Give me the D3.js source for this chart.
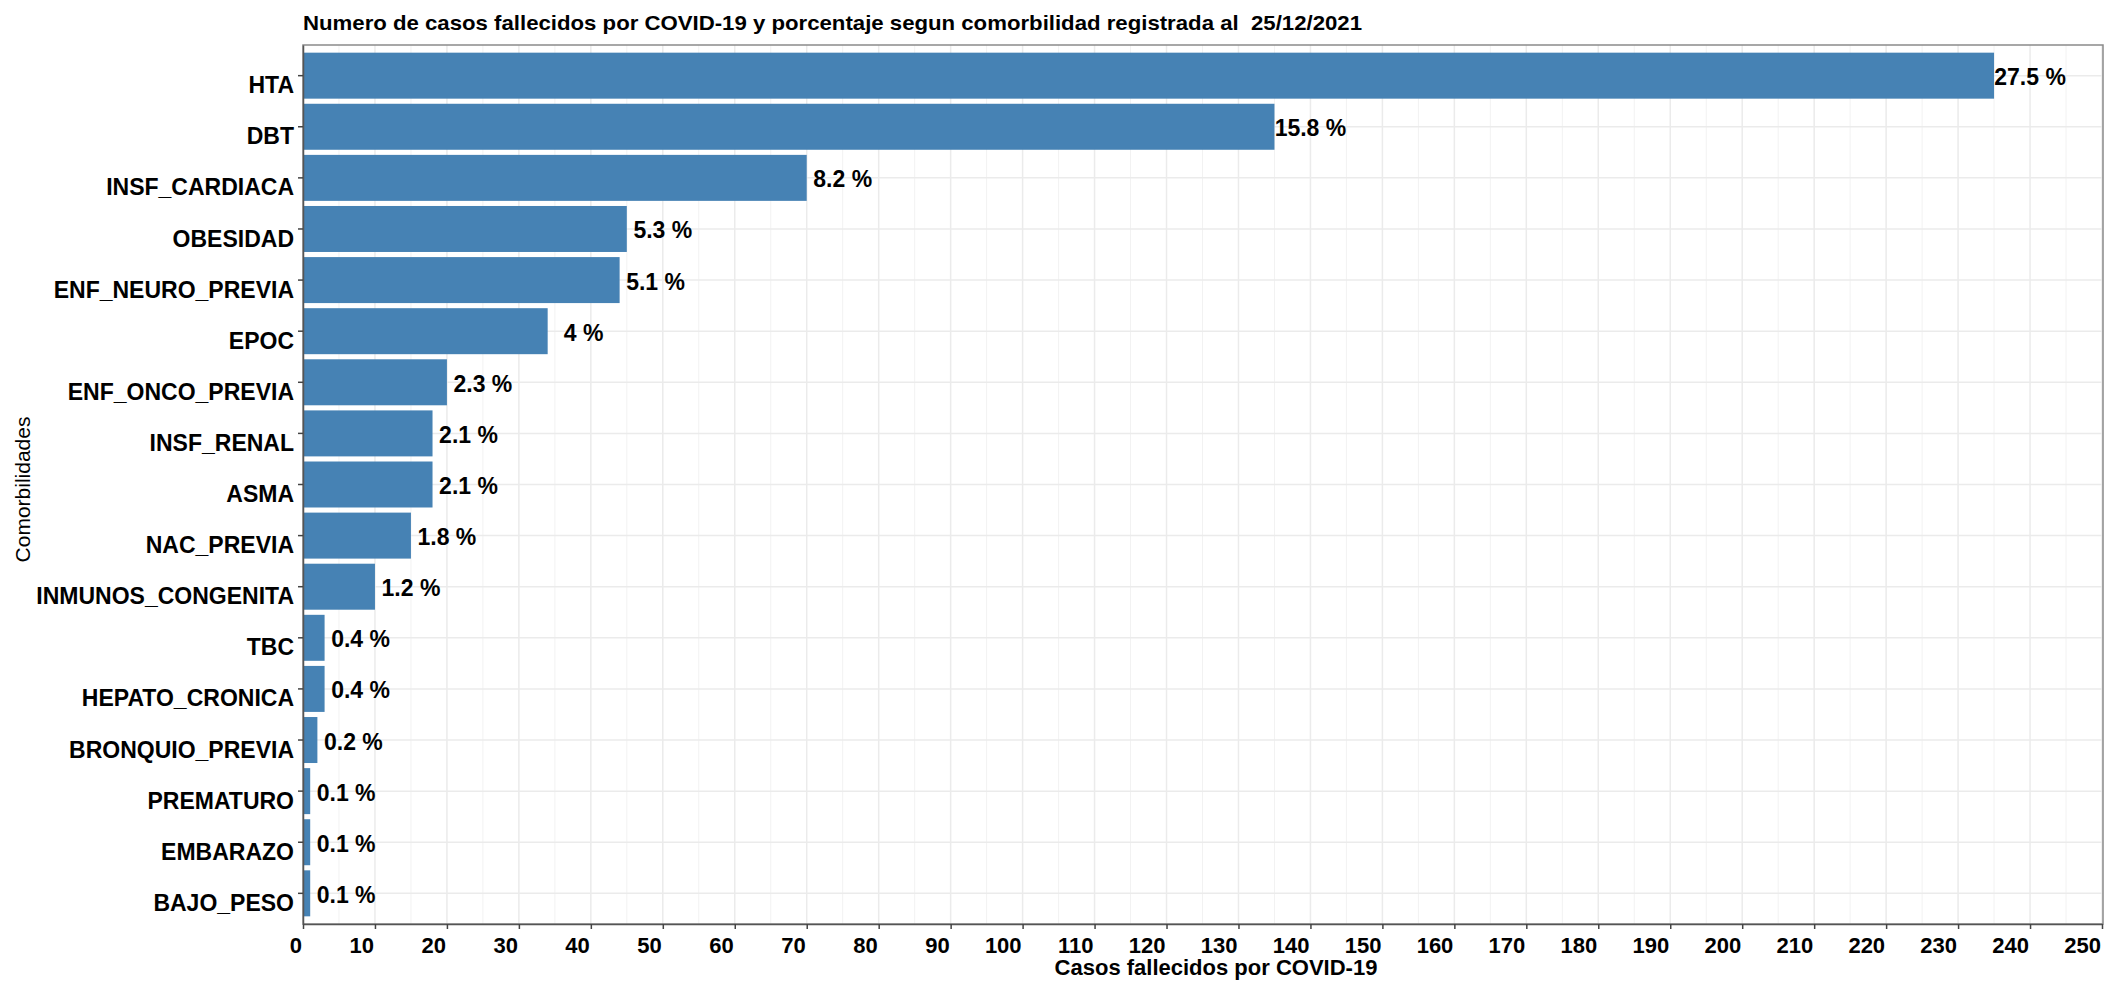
<!DOCTYPE html>
<html>
<head>
<meta charset="utf-8">
<script src="https://cdn.jsdelivr.net/npm/d3@7"></script>
<style>
body { margin: 0; background: #fff; }
text { font-family: "Liberation Sans", Arial, sans-serif; }
</style>
</head>
<body>
<svg id="chart"></svg>
<script>
// comorbidities, top to bottom
var categories = ["HTA", "DBT", "INSF_CARDIACA", "OBESIDAD", "ENF_NEURO_PREVIA", "EPOC",
  "ENF_ONCO_PREVIA", "INSF_RENAL", "ASMA", "NAC_PREVIA", "INMUNOS_CONGENITA", "TBC",
  "HEPATO_CRONICA", "BRONQUIO_PREVIA", "PREMATURO", "EMBARAZO", "BAJO_PESO"];
// deaths per comorbidity
var deaths = [235, 135, 70, 45, 44, 34, 20, 18, 18, 15, 10, 3, 3, 2, 1, 1, 1];
// percentage labels as printed
var pctLabels = ["27.5 %", "15.8 %", "8.2 %", "5.3 %", "5.1 %", "4 %", "2.3 %", "2.1 %",
  "2.1 %", "1.8 %", "1.2 %", "0.4 %", "0.4 %", "0.2 %", "0.1 %", "0.1 %", "0.1 %"];
var xTicks = [0, 10, 20, 30, 40, 50, 60, 70, 80, 90, 100, 110, 120, 130, 140, 150, 160,
  170, 180, 190, 200, 210, 220, 230, 240, 250];
var xMinorTicks = [5, 15, 25, 35, 45, 55, 65, 75, 85, 95, 105, 115, 125, 135, 145, 155,
  165, 175, 185, 195, 205, 215, 225, 235, 245];

var width = 2106, height = 983;
var panel = { left: 303, right: 2103, top: 45, bottom: 924 };

var svg = d3.select('#chart')
  .attr('width', width)
  .attr('height', height);

var data = categories.map(function(c, i) {
  return { cat: c, n: deaths[i], pct: pctLabels[i] };
});

var x = d3.scaleLinear()
  .domain([0, 250])
  .range([panel.left, panel.right - 1]);

// ggplot style: bar width 0.9, 0.6 expansion on each side
var y = d3.scaleBand()
  .domain(categories)
  .range([panel.top, panel.bottom])
  .paddingInner(0.1)
  .paddingOuter(0.15);

// grid
var grid = svg.append('g');
grid.selectAll('line.minor')
  .data(xMinorTicks)
  .enter().append('line')
  .attr('x1', function(d) { return x(d); })
  .attr('x2', function(d) { return x(d); })
  .attr('y1', panel.top)
  .attr('y2', panel.bottom)
  .attr('stroke', '#f2f2f2')
  .attr('stroke-width', 1);

grid.selectAll('line.major')
  .data(xTicks)
  .enter().append('line')
  .attr('x1', function(d) { return x(d); })
  .attr('x2', function(d) { return x(d); })
  .attr('y1', panel.top)
  .attr('y2', panel.bottom)
  .attr('stroke', '#ebebeb')
  .attr('stroke-width', 1.5);

grid.selectAll('line.hmajor')
  .data(categories)
  .enter().append('line')
  .attr('x1', panel.left)
  .attr('x2', panel.right)
  .attr('y1', function(d) { return y(d) + y.bandwidth() / 2; })
  .attr('y2', function(d) { return y(d) + y.bandwidth() / 2; })
  .attr('stroke', '#ebebeb')
  .attr('stroke-width', 1.5);

// bars
svg.append('g').selectAll('rect')
  .data(data)
  .enter().append('rect')
  .attr('x', x(0))
  .attr('y', function(d) { return y(d.cat); })
  .attr('width', function(d) { return x(d.n) - x(0); })
  .attr('height', y.bandwidth())
  .attr('fill', '#4682b4');

// percentage labels
svg.append('g').selectAll('text')
  .data(data)
  .enter().append('text')
  .attr('x', function(d) { return x(d.n + 5); })
  .attr('y', function(d) { return y(d.cat) + y.bandwidth() / 2 + 9.5; })
  .attr('text-anchor', 'middle')
  .style('font-size', '23px')
  .style('font-weight', 'bold')
  .attr('fill', '#000')
  .text(function(d) { return d.pct; });

// panel border
svg.append('rect')
  .attr('x', panel.left)
  .attr('y', panel.top)
  .attr('width', panel.right - panel.left)
  .attr('height', panel.bottom - panel.top)
  .attr('fill', 'none')
  .attr('stroke', '#8a8a8a')
  .attr('stroke-width', 1.5);

// x axis (labels sit right-aligned to their ticks, as in the original)
var xAxis = svg.append('g')
  .attr('transform', 'translate(0,' + panel.bottom + ')')
  .call(d3.axisBottom(x).tickValues(xTicks).tickSize(5).tickSizeOuter(0));
xAxis.select('.domain').attr('stroke', '#555').attr('stroke-width', 1.5);
xAxis.selectAll('.tick line').attr('stroke', '#444').attr('stroke-width', 1.5);
xAxis.selectAll('.tick text')
  .attr('x', -1.5)
  .attr('y', 29)
  .attr('dy', null)
  .attr('text-anchor', 'end')
  .style('font-size', '22px')
  .style('font-weight', 'bold')
  .style('font-family', '"Liberation Sans", Arial, sans-serif')
  .attr('fill', '#000');

// y axis
var yAxis = svg.append('g')
  .attr('transform', 'translate(' + panel.left + ',0)')
  .call(d3.axisLeft(y).tickSize(5).tickSizeOuter(0));
yAxis.select('.domain').attr('stroke', '#555').attr('stroke-width', 1.5);
yAxis.selectAll('.tick line').attr('stroke', '#444').attr('stroke-width', 1.5);
yAxis.selectAll('.tick text')
  .attr('x', -9)
  .attr('y', 9.5)
  .attr('dy', '0.35em')
  .style('font-size', '23px')
  .style('font-weight', 'bold')
  .style('font-family', '"Liberation Sans", Arial, sans-serif')
  .attr('fill', '#000');

// title
svg.append('text')
  .attr('x', 303)
  .attr('y', 30)
  .attr('textLength', 1059)
  .attr('lengthAdjust', 'spacingAndGlyphs')
  .style('font-size', '21px')
  .style('font-weight', 'bold')
  .style('white-space', 'pre')
  .text('Numero de casos fallecidos por COVID-19 y porcentaje segun comorbilidad registrada al  25/12/2021');

// axis titles
svg.append('text')
  .attr('x', 1216)
  .attr('y', 975)
  .attr('text-anchor', 'middle')
  .style('font-size', '22px')
  .style('font-weight', 'bold')
  .text('Casos fallecidos por COVID-19');

svg.append('text')
  .attr('transform', 'translate(30,' + ((panel.top + panel.bottom) / 2 + 5) + ') rotate(-90)')
  .attr('text-anchor', 'middle')
  .style('font-size', '21px')
  .text('Comorbilidades');
</script>
</body>
</html>
